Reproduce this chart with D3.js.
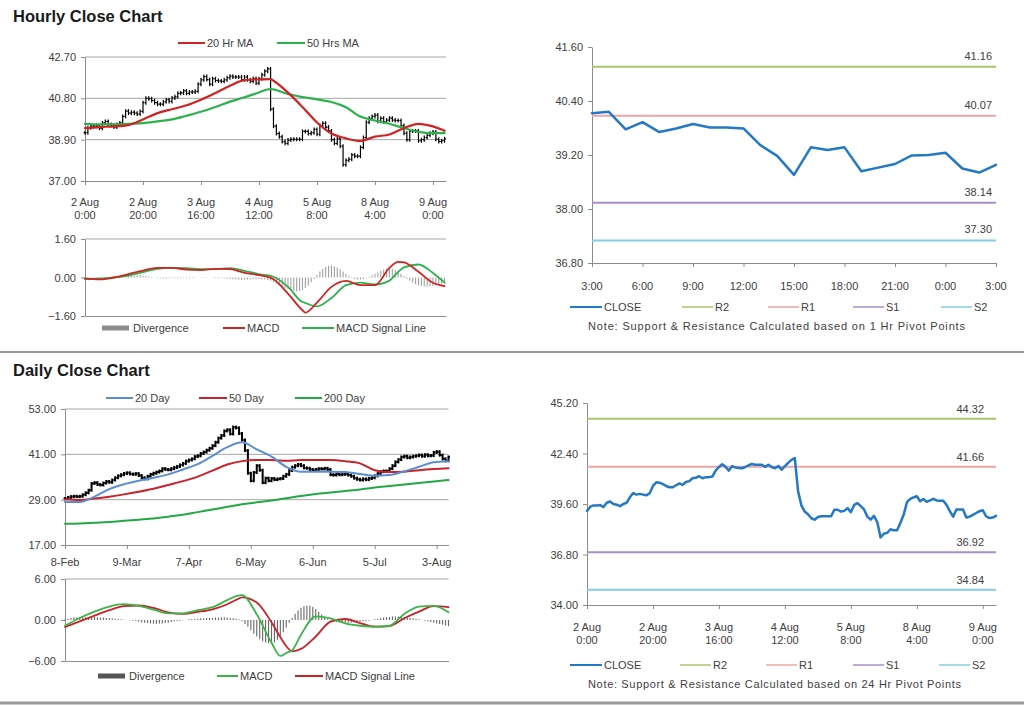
<!DOCTYPE html>
<html><head><meta charset="utf-8">
<script src="https://cdn.jsdelivr.net/npm/d3@7"></script>
<style>body{margin:0;background:#fff;} svg{display:block;} text{font-family:"Liberation Sans",Arial,sans-serif;}</style>
</head><body><svg id="c" width="1024" height="706"></svg>
<script>
// ---------------- DATA ----------------
// Hourly closes (2 Aug 0:00 .. 9 Aug ~4:00), one per trading hour
const hourlyClose = [
39.22,39.45,39.52,39.52,39.54,39.43,39.67,39.74,39.60,39.56,
39.48,39.60,39.67,39.97,40.21,40.12,40.16,40.12,40.08,40.20,
40.60,40.80,40.78,40.70,40.60,40.53,40.53,40.64,40.74,40.66,
40.82,40.87,41.03,41.05,41.14,41.03,41.09,41.09,41.12,41.45,
41.65,41.80,41.66,41.45,41.70,41.62,41.60,41.58,41.65,41.75,
41.82,41.78,41.78,41.78,41.66,41.78,41.65,41.58,41.71,41.50,
41.70,41.88,42.05,42.15,40.30,39.52,39.18,39.03,38.81,38.73,
38.88,38.92,38.92,38.92,38.92,39.28,39.28,39.18,39.22,39.37,
39.15,39.55,39.65,39.48,39.30,38.90,38.73,38.94,38.60,37.75,
37.95,38.00,38.20,38.14,38.14,38.55,39.00,39.70,39.88,39.97,
40.03,39.75,39.88,39.72,39.80,39.89,39.80,39.78,39.78,39.55,
39.20,38.90,39.30,39.30,39.30,38.85,38.90,39.00,39.10,39.20,
39.25,38.92,38.82,38.85,38.94];
const hourlyMaIdx = [0,5,10,15,20,25,30,35,40,45,50,55,60,64,65,70,75,80,85,90,95,100,105,110,115,120,124];
const hourlyMa20 = [39.43,39.48,39.51,39.57,39.83,40.12,40.30,40.48,40.74,41.05,41.38,41.64,41.67,41.68,41.61,41.06,40.40,39.69,39.18,38.96,38.84,39.04,39.14,39.43,39.63,39.51,39.31];
const hourlyMa50 = [39.63,39.60,39.60,39.63,39.66,39.74,39.83,40.00,40.18,40.40,40.65,40.85,41.07,41.23,41.21,41.00,40.86,40.75,40.63,40.39,39.96,39.78,39.63,39.43,39.26,39.20,39.20];
const hourlyMacdIdx = [0,5,10,15,20,25,30,35,40,45,50,55,60,65,70,75,76,80,85,90,95,100,105,108,110,115,120,124];
const hourlyMacd   = [-0.04,-0.08,0,0.14,0.29,0.40,0.40,0.33,0.31,0.36,0.35,0.19,0.10,-0.07,-0.67,-1.36,-1.46,-1.04,-0.39,-0.14,-0.32,-0.32,0.40,0.65,0.63,0.24,-0.22,-0.36];
const hourlySignal = [-0.07,-0.04,0,0.08,0.22,0.36,0.40,0.39,0.35,0.35,0.39,0.28,0.14,0.03,-0.39,-1.02,-1.06,-1.20,-0.85,-0.32,-0.21,-0.29,-0.13,0.23,0.42,0.54,0.19,-0.21];
const hourlyDivergence = [
-0.02,-0.02,-0.02,-0.01,-0.01,0,0,0.01,0.02,0.03,
0.04,0.05,0.06,0.08,0.09,0.10,0.08,0.07,0.09,0.10,
0.08,0.06,0.04,0.02,0,-0.02,-0.03,-0.04,-0.04,-0.03,
-0.02,-0.03,-0.04,-0.03,-0.02,-0.02,-0.03,-0.02,-0.01,0,
0.01,0.02,0.01,0,-0.01,-0.02,-0.03,-0.02,-0.03,-0.05,
-0.06,-0.07,-0.08,-0.08,-0.09,-0.09,-0.08,-0.07,-0.06,-0.06,
-0.06,-0.07,-0.08,-0.10,-0.12,-0.18,-0.25,-0.32,-0.38,-0.44,
-0.48,-0.52,-0.55,-0.57,-0.56,-0.52,-0.44,-0.33,-0.20,-0.06,
0.10,0.25,0.36,0.44,0.49,0.50,0.47,0.42,0.34,0.25,
0.15,0.06,-0.02,-0.06,-0.08,-0.08,-0.06,-0.03,0.02,0.08,
0.15,0.22,0.28,0.33,0.37,0.38,0.36,0.32,0.25,0.16,
0.06,-0.05,-0.14,-0.22,-0.28,-0.32,-0.35,-0.37,-0.38,-0.37,
-0.35,-0.33,-0.30,-0.28,-0.25];
const hourlyTickIdx = [0,20,40,60,80,100,120];
const hourlyTickLabels = [["2 Aug","0:00"],["2 Aug","20:00"],["3 Aug","16:00"],["4 Aug","12:00"],["5 Aug","8:00"],["8 Aug","4:00"],["9 Aug","0:00"]];
const hourlyPriceTicks = [37.00,38.90,40.80,42.70];
const hourlyMacdTicks = [-1.60,0.00,1.60];

// Last 24 hours close with 1 Hr pivots
const last24Close = [40.13,40.16,39.77,39.93,39.71,39.79,39.89,39.81,39.81,39.79,39.42,39.18,38.76,39.37,39.31,39.37,38.84,38.92,39.00,39.19,39.20,39.25,38.90,38.81,38.98];
const last24TickIdx = [0,3,6,9,12,15,18,21,24];
const last24TickLabels = ["3:00","6:00","9:00","12:00","15:00","18:00","21:00","0:00","3:00"];
const last24YTicks = [36.80,38.00,39.20,40.40,41.60];
const pivotNames = ["R2","R1","S1","S2"];
const pivot1hValues = [41.16,40.07,38.14,37.30];
const pivot24hValues = [44.32,41.66,36.92,34.84];
const pivot24YTicks = [34.00,36.80,39.60,42.40,45.20];

// Daily closes (8-Feb .. 9-Aug)
const dailyClose = [
29.3,29.6,29.8,29.9,29.8,29.9,30.3,30.8,31.5,33.3,
33.5,33.0,32.9,33.4,33.8,33.6,34.2,34.8,35.3,35.6,
35.9,36.1,35.8,35.7,35.9,35.4,34.8,34.5,35.2,35.7,
36.0,36.3,36.6,37.2,37.0,36.9,37.2,37.5,37.8,38.2,
38.6,39.2,39.5,39.8,40.4,40.6,41.2,41.6,42.1,42.6,
43.3,44.2,45.3,46.0,47.2,47.5,46.4,48.2,48.0,46.5,
44.8,42.0,36.0,34.0,36.2,38.0,36.8,33.5,34.7,34.0,
34.6,34.3,34.5,34.6,35.2,35.7,36.7,37.6,38.0,38.3,
38.0,37.4,37.3,37.0,36.8,37.0,37.2,37.1,37.3,37.0,
35.6,35.5,35.8,35.6,35.7,35.8,35.5,35.2,34.7,34.4,
34.2,34.5,34.3,34.6,34.8,35.3,35.9,36.4,36.6,36.5,
37.2,38.0,39.0,39.6,40.3,40.5,40.1,40.3,40.5,40.6,
40.8,40.5,40.9,40.6,40.7,41.5,41.7,40.8,39.8,39.3,40.3];
const dailyMaIdx = [0,5,10,15,20,25,30,35,40,45,50,55,60,65,70,75,80,85,90,95,100,105,110,115,120,125,130];
const dailyMa20  = [28.4,28.4,29.8,31.8,33.1,34.0,34.8,35.7,37.0,38.4,40.6,42.9,44.2,42.3,40.4,37.7,36.4,36.4,36.4,36.3,35.8,35.3,35.5,36.5,37.7,38.9,39.2];
const dailyMa50  = [29.1,28.9,29.3,29.8,30.4,31.1,31.9,32.9,33.9,35.1,36.7,38.3,39.2,39.5,39.5,39.3,39.5,39.5,39.5,39.2,38.6,36.8,36.3,36.4,36.8,37.1,37.3];
const dailyMa200 = [22.6,22.7,22.9,23.1,23.4,23.7,24.0,24.5,25.0,25.7,26.4,27.1,27.8,28.3,28.8,29.4,30.0,30.5,30.9,31.3,31.7,32.2,32.6,33.0,33.4,33.8,34.2];
const dailyMacdIdx = [0,5,10,15,20,25,30,35,40,45,50,55,58,60,65,70,73,75,77,80,85,90,95,100,105,110,115,120,125,130];
const dailyMacd   = [-0.84,0.30,1.23,1.97,2.31,2.07,1.53,0.98,0.98,1.43,1.87,2.90,3.49,3.64,0.84,-3.30,-5.26,-4.82,-4.43,-2.16,0.54,0.25,-0.49,-0.84,-0.98,-0.84,0.89,1.97,2.07,1.13];
const dailySignal = [-1.03,-0.20,0.64,1.43,2.02,2.12,1.77,1.13,0.89,1.18,1.57,2.31,2.95,3.30,2.56,-0.34,-2.51,-3.84,-4.58,-4.23,-2.41,-0.25,0.15,-0.44,-0.98,-0.89,0.25,1.23,2.02,1.87];
const dailyDivergence = [
0.1,0.2,0.3,0.35,0.4,0.4,0.45,0.4,0.35,0.4,
0.45,0.4,0.35,0.35,0.3,0.3,0.25,0.2,0.15,0.1,
0.05,0,-0.05,-0.1,-0.15,-0.25,-0.35,-0.4,-0.45,-0.5,
-0.55,-0.55,-0.5,-0.5,-0.45,-0.4,-0.3,-0.2,-0.15,-0.1,
-0.05,0,0.1,0.15,0.2,0.2,0.25,0.25,0.3,0.3,
0.3,0.35,0.35,0.4,0.4,0.35,0.3,0.25,0.2,0.1,
-0.2,-0.6,-1.0,-1.5,-2.0,-2.4,-2.8,-3.1,-3.3,-3.4,
-3.5,-3.3,-2.9,-2.4,-1.8,-1.1,-0.4,0.3,0.9,1.4,
1.8,2.0,2.1,2.1,1.9,1.6,1.2,0.8,0.4,0.1,
-0.1,-0.2,-0.3,-0.35,-0.4,-0.4,-0.45,-0.4,-0.35,-0.3,
-0.25,-0.2,-0.15,-0.1,0,0.1,0.2,0.3,0.35,0.4,
0.45,0.5,0.5,0.5,0.45,0.4,0.35,0.3,0.25,0.2,
0.1,0,-0.1,-0.2,-0.3,-0.4,-0.5,-0.6,-0.7,-0.8,-0.9];
const dailyTickIdx = [0,21,42,63,84,105,126];
const dailyTickLabels = ["8-Feb","9-Mar","7-Apr","6-May","6-Jun","5-Jul","3-Aug"];
const dailyPriceTicks = [17.00,29.00,41.00,53.00];
const dailyMacdTicks = [-6.00,0.00,6.00];

// ---------------- DRAWING ----------------
const svg = d3.select("#c");
const TXT = "#404040", GRID = "#a6a6a6", AXIS = "#8c8c8c";
const fmt2 = d3.format(".2f");
const C = {red:"#d02424", green:"#2bb24c", blue:"#5b8ed0", dred:"#c8232b", dgreen:"#24a845",
  close:"#2479c4", R2:"#a9c76e", R1:"#eaa6a6", S1:"#a791c8", S2:"#86cde0"};
const pivotColors = pivotNames.map(n => C[n]);

function txt(x, y, s, o = {}) {
  const t = svg.append("text").attr("x", x).attr("y", y).text(s)
    .attr("font-size", o.size || 11).attr("fill", o.fill || TXT)
    .attr("text-anchor", o.anchor || "start").attr("font-weight", o.weight || "normal")
    .attr("dy", o.dy == null ? "0.35em" : o.dy);
  if (o.len) t.attr("textLength", o.len).attr("lengthAdjust", "spacing");
  return t;
}
function yAxis(scale, ticks, x) {
  const g = svg.append("g").attr("transform", `translate(${x},0)`)
    .call(d3.axisLeft(scale).tickValues(ticks).tickSize(4).tickSizeOuter(0).tickPadding(5).tickFormat(fmt2));
  g.select(".domain").attr("stroke", AXIS);
  g.selectAll(".tick line").attr("stroke", AXIS);
  g.selectAll(".tick text").attr("fill", TXT).attr("font-size", 11).attr("font-family", "Liberation Sans, Arial, sans-serif");
}
function xAxis(scale, ticks, y, withTicks = true) {
  const g = svg.append("g").attr("transform", `translate(0,${y})`)
    .call(d3.axisBottom(scale).tickValues(ticks).tickSize(withTicks ? 4 : 0).tickSizeOuter(0).tickFormat(""));
  g.select(".domain").attr("stroke", AXIS);
  g.selectAll(".tick line").attr("stroke", AXIS);
}
function grid(xs, ys, vals) {
  svg.append("g").selectAll("line").data(vals).join("line")
    .attr("x1", xs.range()[0]).attr("x2", xs.range()[1])
    .attr("y1", d => ys(d)).attr("y2", d => ys(d)).attr("stroke", GRID).attr("stroke-width", 1);
}
function series(xs, ys, idx, vals, color, w, curve = d3.curveMonotoneX) {
  const line = d3.line().x(d => xs(d[0])).y(d => ys(d[1])).curve(curve);
  svg.append("path").datum(idx.map((k, j) => [k, vals[j]]))
    .attr("d", line).attr("fill", "none").attr("stroke", color).attr("stroke-width", w)
    .attr("stroke-linejoin", "round").attr("stroke-linecap", "round");
}
function bars(xs, ys, closes, w, tick, pad) {
  const g = svg.append("g").attr("stroke", "#000").attr("stroke-width", w);
  closes.forEach((c, i) => {
    const o = i ? closes[i - 1] : c;
    const x = xs(i);
    g.append("line").attr("x1", x).attr("x2", x).attr("y1", ys(Math.max(o, c)) - pad).attr("y2", ys(Math.min(o, c)) + pad);
    g.append("line").attr("x1", x - tick).attr("x2", x).attr("y1", ys(o)).attr("y2", ys(o));
    g.append("line").attr("x1", x).attr("x2", x + tick).attr("y1", ys(c)).attr("y2", ys(c));
  });
}
function hist(xs, ys, vals, color, w) {
  svg.append("g").selectAll("line").data(vals).join("line")
    .attr("x1", (d, i) => xs(i)).attr("x2", (d, i) => xs(i))
    .attr("y1", ys(0)).attr("y2", d => ys(d)).attr("stroke", color).attr("stroke-width", w);
}
function legLine(x1, x2, y, color, label, w = 2) {
  svg.append("line").attr("x1", x1).attr("x2", x2).attr("y1", y).attr("y2", y).attr("stroke", color).attr("stroke-width", w);
  txt(x2 + 2, y, label);
}
function legRect(x1, x2, y, color, label) {
  svg.append("rect").attr("x", x1).attr("y", y - 2.5).attr("width", x2 - x1).attr("height", 5).attr("fill", color);
  txt(x2 + 4, y, label);
}
function twoLineLabels(xs, idx, labels, y) {
  idx.forEach((k, j) => {
    const t = svg.append("text").attr("x", xs(k)).attr("y", y).attr("text-anchor", "middle")
      .attr("font-size", 11).attr("fill", TXT);
    t.append("tspan").attr("x", xs(k)).attr("dy", 0).text(labels[j][0]);
    t.append("tspan").attr("x", xs(k)).attr("dy", 13).text(labels[j][1]);
  });
}

// Titles & separators
txt(13, 16, "Hourly Close Chart", {size: 16.5, weight: "bold", fill: "#1a1a1a"});
txt(13, 370, "Daily Close Chart", {size: 16.5, weight: "bold", fill: "#1a1a1a"});
svg.append("line").attr("x1", 0).attr("x2", 1024).attr("y1", 352).attr("y2", 352).attr("stroke", "#9a9a9a").attr("stroke-width", 2);
svg.append("line").attr("x1", 0).attr("x2", 1024).attr("y1", 703).attr("y2", 703).attr("stroke", "#9a9a9a").attr("stroke-width", 3);

// ===== Panel A: hourly price =====
const xA = d3.scaleLinear().domain([0, 124.5]).range([85, 446]);
const yA = d3.scaleLinear().domain([37, 42.7]).range([181, 57]);
grid(xA, yA, hourlyPriceTicks.slice(1));
yAxis(yA, hourlyPriceTicks, 85);
xAxis(xA, hourlyTickIdx, 181);
twoLineLabels(xA, hourlyTickIdx, hourlyTickLabels, 206);
bars(xA, yA, hourlyClose, 1.2, 1.3, 2);
series(xA, yA, hourlyMaIdx, hourlyMa50, C.green, 2.2);
series(xA, yA, hourlyMaIdx, hourlyMa20, C.red, 2.2);
legLine(178, 205, 43, C.red, "20 Hr MA");
legLine(277, 305, 43, C.green, "50 Hrs MA");

// ===== Panel B: hourly MACD =====
const yB = d3.scaleLinear().domain([-1.6, 1.6]).range([316, 239]);
grid(xA, yB, [1.6]);
yAxis(yB, hourlyMacdTicks, 85);
xAxis(xA, [], 316, false);
hist(xA, yB, hourlyDivergence, "#a0a0a0", 1.1);
series(xA, yB, hourlyMacdIdx, hourlySignal, C.green, 1.8);
series(xA, yB, hourlyMacdIdx, hourlyMacd, C.red, 1.8);
legRect(102, 129, 328, "#8c8c8c", "Divergence");
legLine(223, 245, 328, C.red, "MACD");
legLine(302, 334, 328, C.green, "MACD  Signal Line");

// ===== Panel C: last 24h with 1 Hr pivots =====
const xC = d3.scaleLinear().domain([0, 24]).range([592, 996]);
const yC = d3.scaleLinear().domain([36.8, 41.6]).range([263, 47]);
yAxis(yC, last24YTicks, 592);
xAxis(xC, last24TickIdx, 263);
last24TickIdx.forEach((k, j) => txt(xC(k), 286, last24TickLabels[j], {anchor: "middle"}));
pivot1hValues.forEach((v, j) => {
  svg.append("line").attr("x1", xC(0)).attr("x2", xC(24)).attr("y1", yC(v)).attr("y2", yC(v))
    .attr("stroke", pivotColors[j]).attr("stroke-width", 2);
  txt(992, yC(v) - 11, fmt2(v), {anchor: "end"});
});
series(xC, yC, last24Close.map((d, i) => i), last24Close, C.close, 2.5, d3.curveLinear);
legLine(570, 602, 307, C.close, "CLOSE");
pivotNames.forEach((n, j) => {
  const x0 = [682, 768, 853, 941][j];
  legLine(x0, x0 + 31, 307, pivotColors[j], n, 1.5);
});
txt(588, 326, "Note: Support & Resistance Calculated based on 1 Hr Pivot Points", {len: 377});

// ===== Panel D: daily price =====
const xD = d3.scaleLinear().domain([0, 130]).range([65, 448.5]);
const yD = d3.scaleLinear().domain([17, 53]).range([545, 409]);
grid(xD, yD, dailyPriceTicks.slice(1));
yAxis(yD, dailyPriceTicks, 65);
xAxis(xD, dailyTickIdx, 545);
dailyTickIdx.forEach((k, j) => txt(xD(k), 562, dailyTickLabels[j], {anchor: "middle"}));
bars(xD, yD, dailyClose, 2, 1.4, 1.5);
series(xD, yD, dailyMaIdx, dailyMa200, C.dgreen, 2);
series(xD, yD, dailyMaIdx, dailyMa50, C.dred, 2);
series(xD, yD, dailyMaIdx, dailyMa20, C.blue, 2);
legLine(106, 133, 398, C.blue, "20 Day");
legLine(199, 227, 398, C.dred, "50 Day");
legLine(295, 322, 398, C.dgreen, "200 Day");

// ===== Panel E: daily MACD =====
const yE = d3.scaleLinear().domain([-6, 6]).range([661, 579]);
grid(xD, yE, [6]);
yAxis(yE, dailyMacdTicks, 65);
xAxis(xD, [], 661, false);
hist(xD, yE, dailyDivergence, "#666", 1.1);
series(xD, yE, dailyMacdIdx, dailySignal, C.dred, 1.8);
series(xD, yE, dailyMacdIdx, dailyMacd, "#3cb44b", 1.8);
legRect(98, 125, 676, "#555", "Divergence");
legLine(217, 238, 676, "#3cb44b", "MACD");
legLine(295, 323, 676, C.dred, "MACD  Signal Line");

// ===== Panel F: hourly close with 24 Hr pivots =====
const xF = d3.scaleLinear().domain([0, 124]).range([587, 996]);
const yF = d3.scaleLinear().domain([34, 45.2]).range([605, 403]);
yAxis(yF, pivot24YTicks, 587);
xAxis(xF, hourlyTickIdx, 605);
twoLineLabels(xF, hourlyTickIdx, hourlyTickLabels, 631);
pivot24hValues.forEach((v, j) => {
  svg.append("line").attr("x1", xF(0)).attr("x2", xF(124)).attr("y1", yF(v)).attr("y2", yF(v))
    .attr("stroke", pivotColors[j]).attr("stroke-width", 2);
  txt(984, yF(v) - 10, fmt2(v), {anchor: "end"});
});
series(xF, yF, hourlyClose.map((d, i) => i), hourlyClose, C.close, 2.5, d3.curveLinear);
legLine(570, 602, 665, C.close, "CLOSE");
pivotNames.forEach((n, j) => {
  const x0 = [680, 766, 853, 939][j];
  legLine(x0, x0 + 31, 665, pivotColors[j], n, 1.5);
});
txt(588, 684, "Note: Support & Resistance Calculated based on 24 Hr Pivot Points", {len: 373});
</script></body></html>
